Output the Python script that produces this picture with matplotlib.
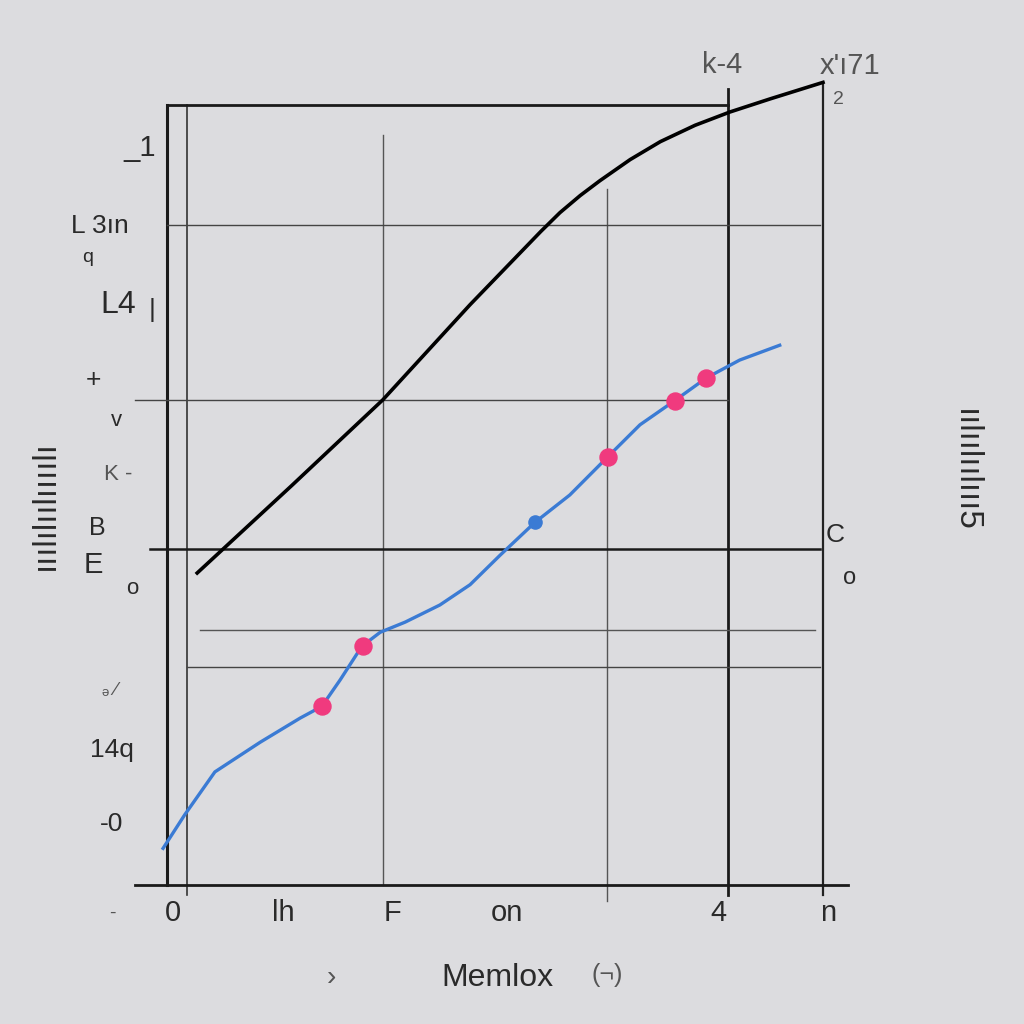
import matplotlib
matplotlib.use("Agg")
import matplotlib.pyplot as plt
import numpy as np

plt.rcParams['font.family'] = ['Liberation Sans', 'DejaVu Sans']

# ---- data ----
black_x = [0.46, 1.9, 3.29, 4.62, 5.70, 5.99, 6.30, 6.60, 7.06, 7.52, 8.05, 8.58, 9.20, 10.0]
black_y = [4.00, 5.12, 6.22, 7.44, 8.38, 8.62, 8.84, 9.03, 9.30, 9.53, 9.74, 9.91, 10.08, 10.29]

blue_x = [-0.06, 0.27, 0.73, 1.42, 2.03, 2.36, 2.64, 2.97, 3.25, 3.63, 4.16, 4.62,
          5.08, 5.61, 6.14, 6.72, 7.21, 7.74, 8.22, 8.73, 9.34]
blue_y = [0.47, 0.90, 1.45, 1.83, 2.14, 2.29, 2.63, 3.06, 3.24, 3.37, 3.59, 3.85,
          4.23, 4.65, 5.00, 5.49, 5.90, 6.21, 6.50, 6.73, 6.92]

pink_x = [2.36, 2.99, 6.72, 7.74, 8.22]
pink_y = [2.29, 3.06, 5.49, 6.21, 6.50]
blue_pt_x = [5.61]
blue_pt_y = [4.65]

xtick_labels = ["0", "lh", "F", "on", "4", "n"]
xlabel = "Memlox"

# frame / grid lines (data units)
vlines = [(0.0, 0.0, 10.0, 2.2, "#1a1a1a"), (0.30, -0.13, 10.0, 1.2, "#333333"),
          (3.29, 0.0, 9.62, 1.0, "#555555"), (6.71, -0.2, 8.92, 1.0, "#555555"),
          (8.55, -0.13, 10.2, 2.0, "#1a1a1a"), (10.0, -0.13, 10.26, 1.6, "#222222")]
hlines = [(10.0, 0.0, 8.55, 2.0, "#1a1a1a"), (8.46, 0.0, 9.95, 1.0, "#444444"),
          (6.22, -0.49, 8.55, 1.0, "#444444"), (4.31, -0.26, 9.95, 1.8, "#1a1a1a"),
          (3.27, 0.5, 9.88, 1.0, "#555555"), (2.79, 0.30, 9.95, 1.0, "#444444"),
          (0.0, -0.49, 10.38, 2.0, "#1a1a1a")]

bg = "#dcdcdf"
fig = plt.figure(figsize=(10.24, 10.24), dpi=100, facecolor=bg)
ax = fig.add_axes([167/1024, 1-885/1024, 656/1024, 780/1024])
ax.set_facecolor(bg)
ax.set_xlim(0, 10)
ax.set_ylim(0, 10)
for s in ax.spines.values():
    s.set_visible(False)
ax.set_xticks([])
ax.set_yticks([])

for x, y0, y1, lw, c in vlines:
    ax.plot([x, x], [y0, y1], color=c, lw=lw, clip_on=False, zorder=1)
for y, x0, x1, lw, c in hlines:
    ax.plot([x0, x1], [y, y], color=c, lw=lw, clip_on=False, zorder=1)

ax.plot(black_x, black_y, color="black", lw=2.6, clip_on=False, zorder=3,
        solid_joinstyle="round")
ax.plot(blue_x, blue_y, color="#3b7bd4", lw=2.4, clip_on=False, zorder=3,
        solid_joinstyle="round")
ax.scatter(pink_x, pink_y, s=150, color="#f03a7e", zorder=4, clip_on=False)
ax.scatter(blue_pt_x, blue_pt_y, s=90, color="#3b7bd4", zorder=4, clip_on=False)

def t(px, py, s, size=20, **kw):
    fig.text(px/1024, 1-py/1024, s, fontsize=size, ha="center", va="center",
             color=kw.pop("color", "#2a2a2a"), **kw)

# x tick labels
xtick_px = [173, 283, 392, 507, 718, 828]
for px, s in zip(xtick_px, xtick_labels):
    t(px, 913, s, 21)
t(497, 978, xlabel, 23)
t(331, 978, "›", 20, color="#555555")
t(607, 975, "(¬)", 18, color="#555555")
t(112, 913, "-", 14, color="#555555")

# y side labels
t(140, 148, "_1", 21)
t(100, 226, "L 3ın", 19)
t(88, 258, "q", 14)
t(118, 305, "L4", 23)
t(152, 310, "|", 19)
t(93, 380, "+", 19)
t(116, 420, "v", 16)
t(118, 475, "K -", 16, color="#555555")
t(97, 528, "B", 18)
t(93, 565, "E", 21)
t(132, 589, "o", 16)
t(110, 690, "ₔ ⁄", 14, color="#555555")
t(112, 750, "14q", 19)
t(112, 824, "-0", 19)
t(45, 505, "ııılılıılıııılı", 24, rotation=90)

# top / right labels
t(722, 65, "k-4", 21, color="#555555")
t(850, 66, "x'ı71", 21, color="#555555")
t(838, 100, "2", 14, color="#555555")
t(835, 535, "C", 19)
t(850, 578, "o", 17)
t(965, 470, "ıılıılıılııı5", 24, rotation=-90)

fig.savefig("out.png", dpi=100, facecolor=bg)
